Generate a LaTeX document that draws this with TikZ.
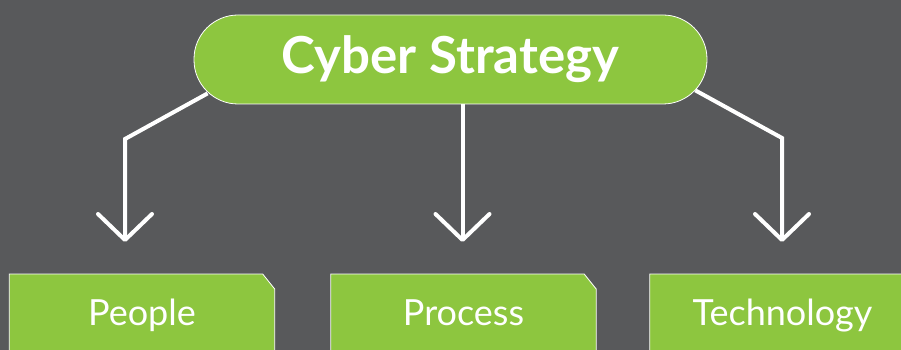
\documentclass[tikz,border=0pt]{standalone}
\usepackage{fontspec}
\setmainfont{Lato}
\usetikzlibrary{arrows.meta}
\definecolor{slate}{HTML}{58595B}
\definecolor{leaf}{HTML}{8DC63F}
\pgfdeclarelayer{back}
\pgfsetlayers{back,main}

\begin{document}
\begin{tikzpicture}[x=1pt, y=-1pt,
    top node/.style={draw=white, line width=0.8pt, fill=leaf, rounded corners=44pt,
      minimum width=513pt, minimum height=89pt, text=white,
      font=\fontsize{51}{60}\selectfont\bfseries},
    box node/.style={anchor=north, minimum width=265pt, inner xsep=0pt, inner ysep=25pt,
      text height=26pt, text depth=80pt, text=white, font=\fontsize{36}{42}\selectfont},
    box line/.style={draw=white, line width=0.8pt, fill=leaf},
    link/.style={draw=white, line width=4pt,
      -{Straight Barb[length=26pt, width=54pt, round]}}]

  \useasboundingbox (0,0) rectangle (901,350);
  \clip (0,0) rectangle (901,350);
  \begin{pgfonlayer}{back}
    \fill[slate] (0,0) rectangle (901,350);
  \end{pgfonlayer}

  \node[top node] (strategy) at (450.5,59.5) {Cyber Strategy};

  \node[box node] (people) at (142,274) {People};
  \node[box node] (process) at (463.5,274) {Process};
  \node[box node] (technology) at (782.5,274) {Technology};

  % snipped boxes behind the labels
  \begin{pgfonlayer}{back}
    \foreach \b in {people,process,technology}
      \path[box line] (\b.south west) -- (\b.north west) -- ([xshift=-12pt]\b.north east)
        -- ([yshift=-15pt]\b.north east) -- (\b.south east) -- cycle;
  \end{pgfonlayer}

  \coordinate (lbend) at (125,139);
  \coordinate (ltip) at (125,242);
  \coordinate (mtip) at (462.5,242);
  \coordinate (rbend) at (782,138);
  \coordinate (rtip) at (782,242);

  \draw[link] ([shift={(14pt,11pt)}]strategy.south west) -- (lbend) -- (ltip);
  \draw[link] ([xshift=12pt]strategy.south) -- (mtip);
  \draw[link] ([shift={(-12pt,14pt)}]strategy.south east) -- (rbend) -- (rtip);

\end{tikzpicture}
\end{document}
